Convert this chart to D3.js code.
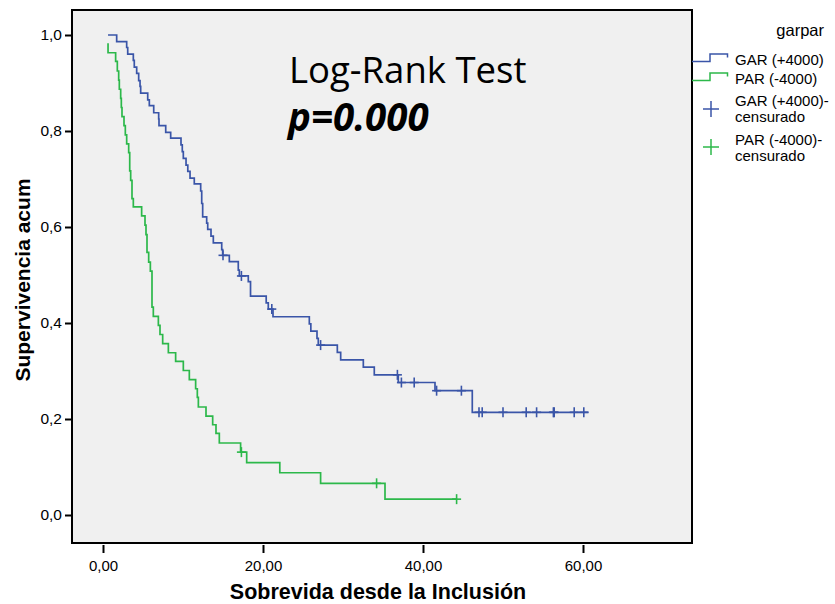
<!DOCTYPE html>
<html><head><meta charset="utf-8">
<script src="https://cdn.jsdelivr.net/npm/d3@7"></script>
<style>
html,body{margin:0;padding:0;background:#fff;}
svg{display:block;font-family:"Liberation Sans",Arial,sans-serif;}
</style></head>
<body><svg id="c" width="835" height="604"></svg>
<script>
// Kaplan-Meier step data
const garTimes = [0.63,1.71,2.96,3.09,3.79,3.91,4.21,4.46,4.63,4.71,5.59,5.79,6.34,6.96,7.0,7.84,8.46,9.75,9.91,10.04,10.38,10.6,10.88,11.41,12.21,12.34,12.46,12.96,13.09,13.5,13.79,14.84,14.96,15.79,16.91,17.04,18.16,18.44,20.4,20.66,21.25,25.79,25.98,26.75,26.91,29.29,29.71,32.54,33.91,36.91,41.5,46.16,60.7];
const garSurv = [1.0,0.986,0.974,0.960,0.947,0.933,0.920,0.905,0.893,0.879,0.865,0.853,0.838,0.825,0.811,0.797,0.785,0.771,0.757,0.743,0.729,0.716,0.702,0.690,0.675,0.649,0.621,0.608,0.595,0.581,0.567,0.553,0.541,0.528,0.510,0.498,0.486,0.456,0.442,0.429,0.413,0.398,0.383,0.368,0.354,0.339,0.323,0.308,0.292,0.276,0.259,0.214,0.214];
const garCensored = [15.0,17.3,21.1,27.2,36.8,37.3,38.9,41.7,44.8,47.0,47.4,50.0,52.9,54.2,56.3,56.4,58.9,60.1];

const parTimes = [0.63,0.63,1.58,1.79,1.96,2.04,2.21,2.29,2.375,2.625,2.79,2.96,3.21,3.34,3.46,3.625,3.79,4.83,5.25,5.375,5.5,5.71,5.92,6.125,6.29,6.92,7.125,7.46,8.17,9.08,10.04,10.79,11.58,11.79,11.92,12.875,13.71,14.125,14.54,17.2,17.96,22.1,27.2,35.25,44.2];
const parSurv = [0.983,0.963,0.945,0.925,0.906,0.887,0.868,0.849,0.830,0.811,0.792,0.773,0.755,0.717,0.697,0.659,0.642,0.623,0.604,0.584,0.547,0.527,0.508,0.433,0.414,0.395,0.376,0.357,0.338,0.320,0.301,0.282,0.263,0.245,0.225,0.206,0.188,0.170,0.150,0.131,0.109,0.088,0.066,0.033,0.033];
const parCensored = [17.3,34.2,44.2];

const xTicks = [0,20,40,60];
const yTicks = [0,0.2,0.4,0.6,0.8,1.0];
const legendTitle = "garpar";
const legendLabels = ["GAR (+4000)","PAR (-4000)",["GAR (+4000)-","censurado"],["PAR (-4000)-","censurado"]];
const BLUE = "#3a55a8", GREEN = "#2cb84a";

const svg = d3.select("#c");
const L = 72, R = 692, T = 10, B = 543;
const x = d3.scaleLinear().domain([-3.875, 73.625]).range([L, R]);
const y = d3.scaleLinear().domain([0, 1]).range([515, 35]);

svg.append("rect").attr("x", L).attr("y", T).attr("width", R - L).attr("height", B - T)
  .attr("fill", "#f0f0f0");

svg.append("clipPath").attr("id","clp").append("rect")
  .attr("x", L).attr("y", T).attr("width", R - L).attr("height", B - T);

function series(times, surv, censored, color) {
  const pts = times.map((t, i) => [t, surv[i]]);
  const line = d3.line().x(d => x(d[0])).y(d => y(d[1])).curve(d3.curveStepAfter);
  svg.append("path").attr("d", line(pts)).attr("fill", "none")
    .attr("stroke", color).attr("stroke-width", 1.7).attr("clip-path","url(#clp)");
  const survAt = t => { let s = surv[0]; for (let i = 0; i < times.length; i++) { if (times[i] <= t) s = surv[i]; } return s; };
  const g = svg.append("g").attr("stroke", color).attr("stroke-width", 1.6);
  censored.forEach(t => {
    const cx = x(t), cy = y(survAt(t));
    g.append("line").attr("x1", cx - 4.5).attr("x2", cx + 4.5).attr("y1", cy).attr("y2", cy);
    g.append("line").attr("x1", cx).attr("x2", cx).attr("y1", cy - 5).attr("y2", cy + 5);
  });
}
series(garTimes, garSurv, garCensored, BLUE);
series(parTimes, parSurv, parCensored, GREEN);

// frame
svg.append("rect").attr("x", L).attr("y", T).attr("width", R - L).attr("height", B - T)
  .attr("fill", "none").attr("stroke", "#000").attr("stroke-width", 2);

// y axis
const yAx = svg.append("g").attr("transform", `translate(${L},0)`)
  .call(d3.axisLeft(y).tickValues(yTicks).tickSize(7).tickSizeOuter(0)
    .tickFormat(d => d3.format(".1f")(d).replace(".", ",")));
yAx.select(".domain").remove();
yAx.selectAll(".tick line").attr("stroke", "#000").attr("stroke-width", 2);
yAx.selectAll(".tick text").attr("font-size", 15.5).attr("fill", "#000").attr("x", -10)
  .attr("font-family", '"Liberation Sans",Arial,sans-serif');

// x axis
const xAx = svg.append("g").attr("transform", `translate(0,${B + 2})`)
  .call(d3.axisBottom(x).tickValues(xTicks).tickSize(8).tickSizeOuter(0)
    .tickFormat(d => d3.format(".2f")(d).replace(".", ",")));
xAx.select(".domain").remove();
xAx.selectAll(".tick line").attr("stroke", "#000").attr("stroke-width", 2);
xAx.selectAll(".tick text").attr("font-size", 15).attr("fill", "#000").attr("y", 15)
  .attr("font-family", '"Liberation Sans",Arial,sans-serif');

// axis titles
svg.append("text").attr("x", 378).attr("y", 599).attr("text-anchor", "middle")
  .attr("font-size", 21.5).attr("font-weight", "bold").text("Sobrevida desde la Inclusión");
svg.append("text").attr("transform", "translate(30,280) rotate(-90)").attr("text-anchor", "middle")
  .attr("font-size", 21).attr("font-weight", "bold").text("Supervivencia acum");

// annotation
svg.append("text").attr("x", 289).attr("y", 83).attr("font-size", 36.5)
  .attr("font-family", '"Open Sans",sans-serif').text("Log-Rank Test");
svg.append("text").attr("x", 288).attr("y", 131).attr("font-size", 38.5)
  .attr("font-weight", "bold").attr("font-style", "italic")
  .attr("font-family", '"Open Sans",sans-serif').text("p=0.000");

// legend
svg.append("text").attr("x", 824).attr("y", 36).attr("text-anchor", "end")
  .attr("font-size", 16.5).text(legendTitle);
const lg = svg.append("g");
[[BLUE, 61.5], [GREEN, 80.5]].forEach(([c, yy], i) => {
  lg.append("path").attr("d", `M${R},${yy}H710V${yy - 7.5}H727.5V${yy - 4}`)
    .attr("fill", "none").attr("stroke", c).attr("stroke-width", 1.5);
  lg.append("text").attr("x", 735).attr("y", yy + 3.5).attr("font-size", 15).text(legendLabels[i]);
});
[[BLUE, 109, 106], [GREEN, 147, 145]].forEach(([c, cy, ty], i) => {
  lg.append("line").attr("x1", 703).attr("x2", 719).attr("y1", cy).attr("y2", cy).attr("stroke", c).attr("stroke-width", 1.5);
  lg.append("line").attr("x1", 711).attr("x2", 711).attr("y1", cy - 8).attr("y2", cy + 8).attr("stroke", c).attr("stroke-width", 1.5);
  const t = lg.append("text").attr("x", 735).attr("y", ty).attr("font-size", 15);
  t.append("tspan").attr("x", 735).text(legendLabels[i + 2][0]);
  t.append("tspan").attr("x", 735).attr("dy", 15.5).text(legendLabels[i + 2][1]);
});
</script></body></html>
